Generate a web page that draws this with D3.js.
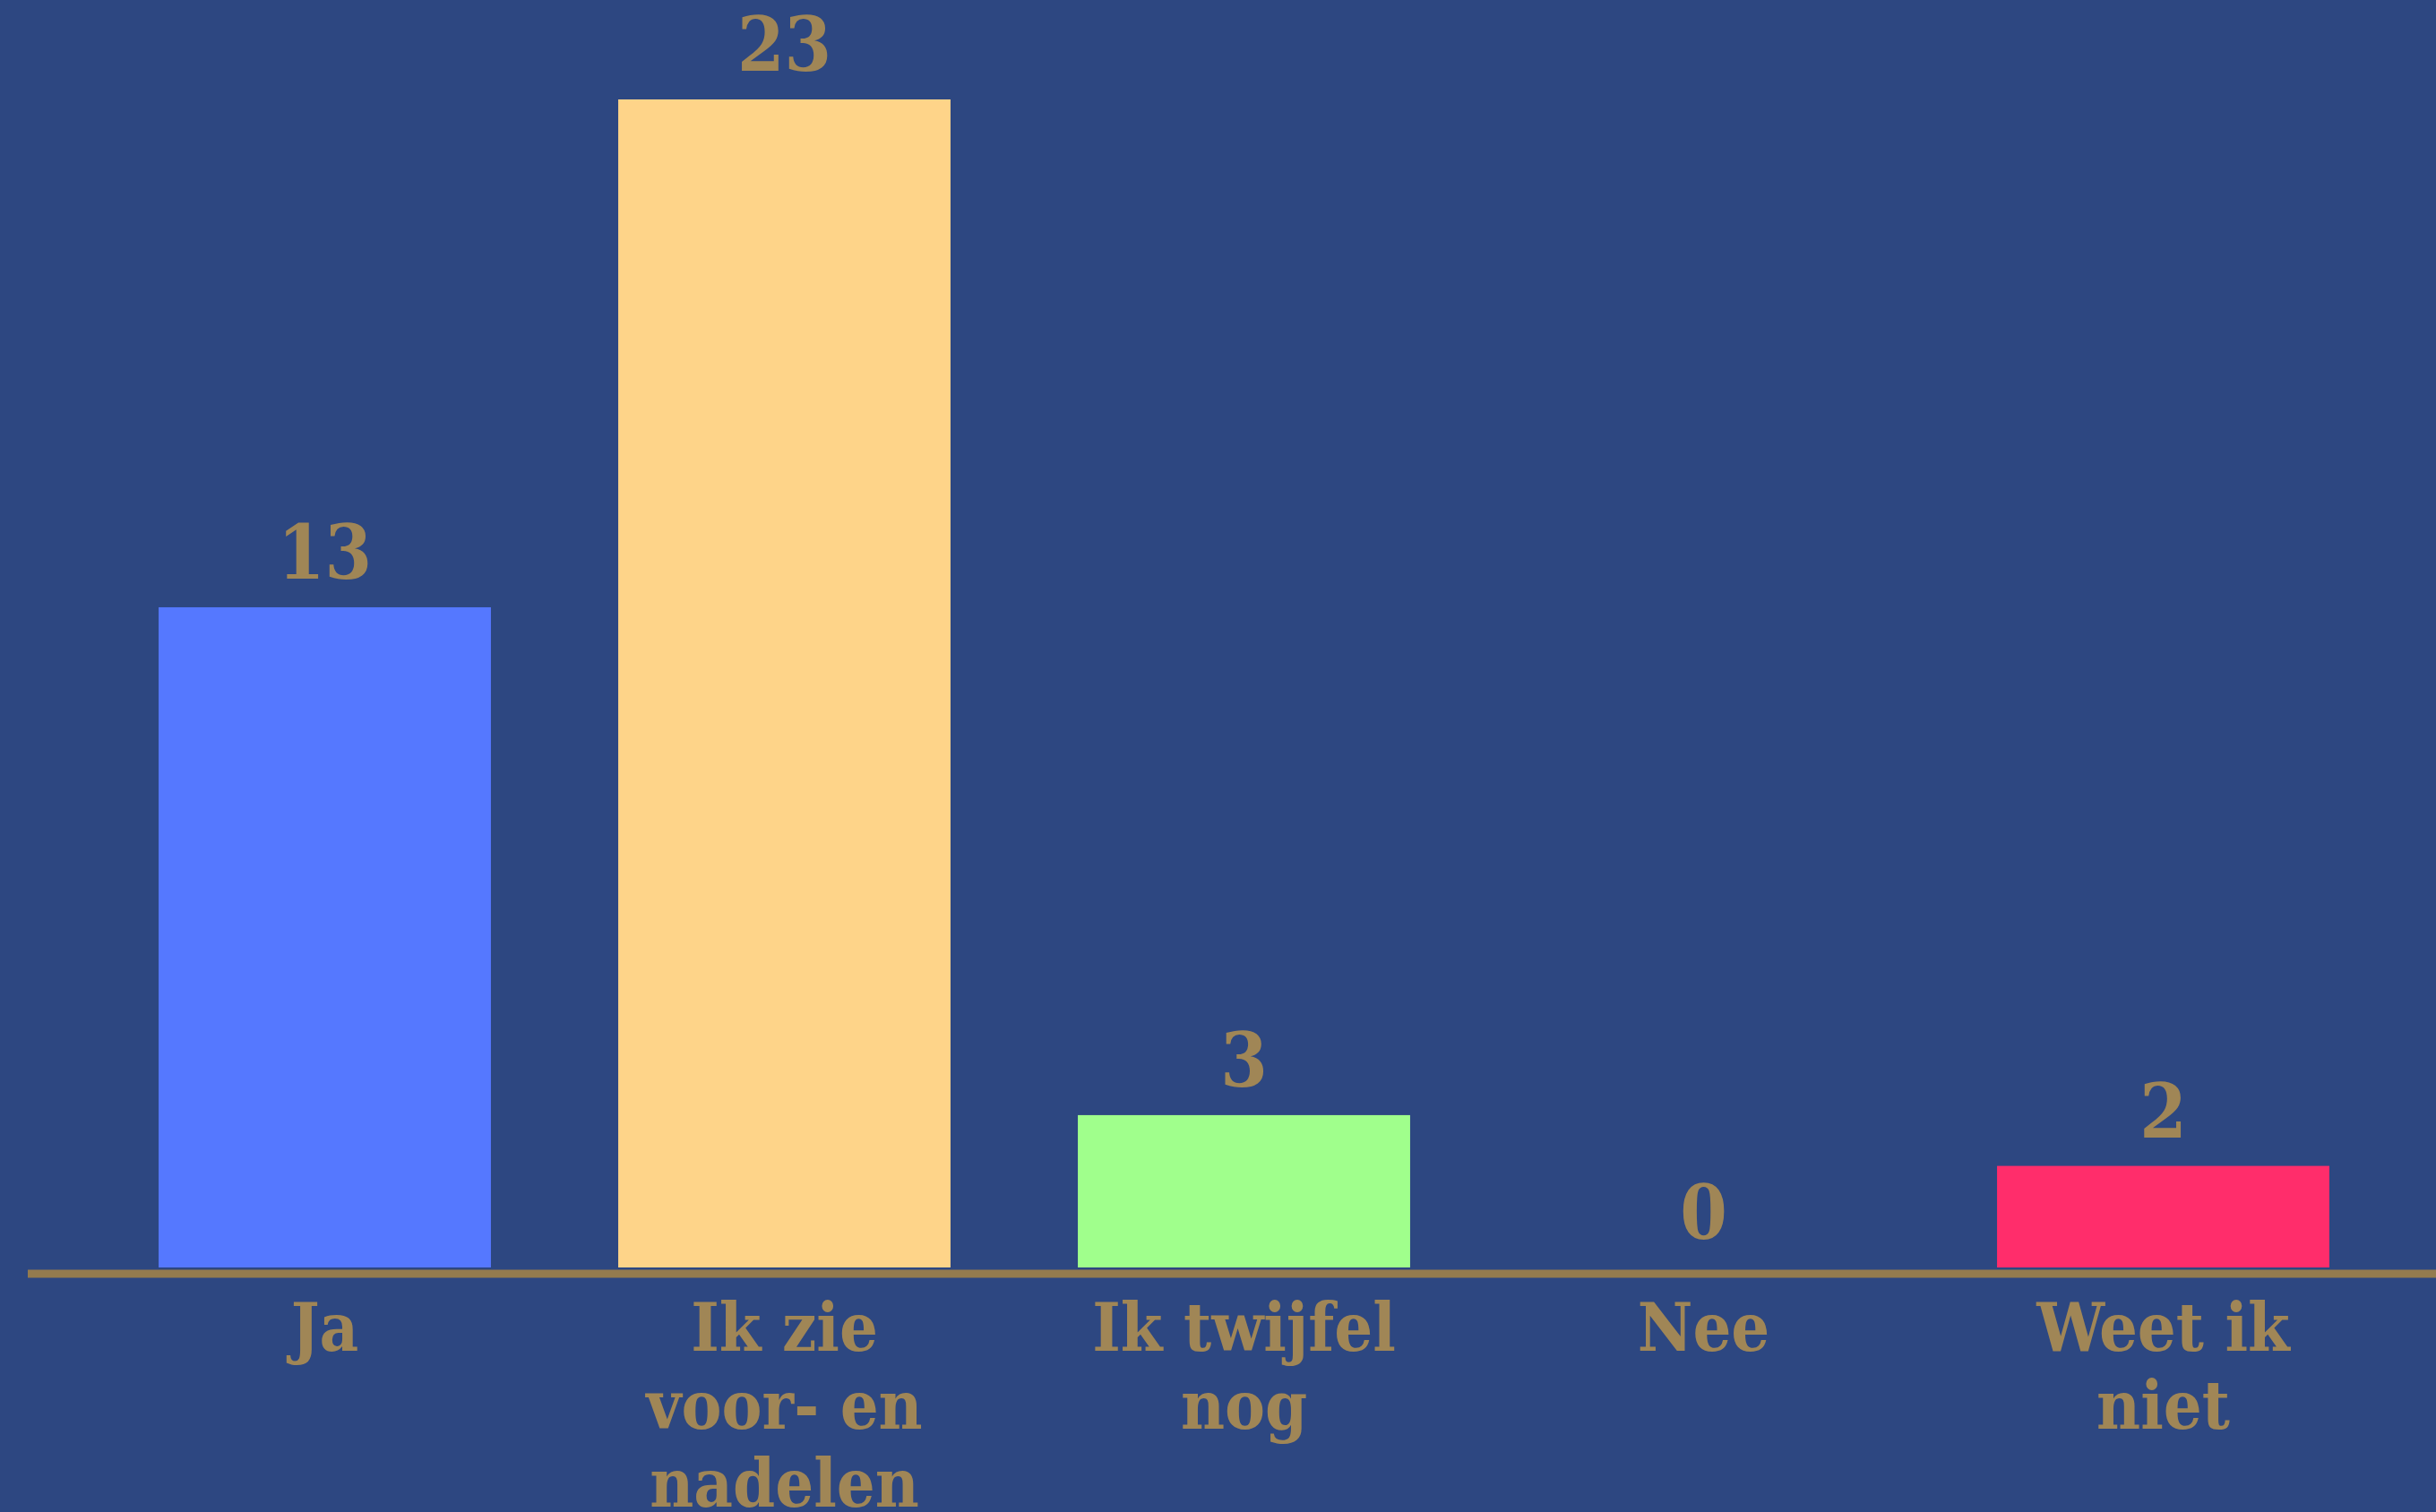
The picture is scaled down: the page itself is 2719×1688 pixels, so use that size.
<!DOCTYPE html>
<html>
<head>
<meta charset="utf-8">
<script src="https://cdn.jsdelivr.net/npm/d3@7"></script>
<style>
  html, body { margin: 0; padding: 0; background: #2D4781; }
  svg { display: block; }
  text { font-family: "DejaVu Serif Condensed", "DejaVu Serif", serif; font-stretch: condensed; font-weight: bold; }
</style>
</head>
<body>
<script>
const categories = ["Ja", "Ik zie voor- en nadelen", "Ik twijfel nog", "Nee", "Weet ik niet"];
const categoryLines = [["Ja"], ["Ik zie", "voor- en", "nadelen"], ["Ik twijfel", "nog"], ["Nee"], ["Weet ik", "niet"]];
const values = [13, 23, 3, 0, 2];
const barColors = ["#5578FF", "#FED489", "#A0FF8C", "#FF2D6B", "#FF2D6B"];

const W = 2719, H = 1688;
const bg = "#2D4781", gold = "#A08656";

const svg = d3.select("body").append("svg").attr("width", W).attr("height", H);
svg.append("rect").attr("width", W).attr("height", H).attr("fill", bg);

const x = d3.scaleBand().domain(categories).range([106, 2671]).paddingInner(0.277).paddingOuter(0.1385);
const y = d3.scaleLinear().domain([0, 23]).range([1415, 111]);

svg.selectAll("rect.bar").data(values).enter().append("rect")
  .attr("class", "bar")
  .attr("x", (d, i) => x(categories[i]))
  .attr("width", x.bandwidth())
  .attr("y", d => y(d))
  .attr("height", d => y(0) - y(d))
  .attr("fill", (d, i) => barColors[i]);

svg.selectAll("text.val").data(values).enter().append("text")
  .attr("class", "val")
  .attr("x", (d, i) => x(categories[i]) + x.bandwidth() / 2)
  .attr("y", d => y(d) - 32)
  .attr("text-anchor", "middle")
  .attr("font-size", 84)
  .attr("fill", gold)
  .text(d => d);

// baseline
svg.append("line")
  .attr("x1", 31).attr("x2", W)
  .attr("y1", 1422).attr("y2", 1422)
  .attr("stroke", "#947B4E").attr("stroke-width", 9);

// category axis
const axis = d3.axisBottom(x).tickSize(0).tickFormat("");
const ag = svg.append("g").attr("transform", "translate(0,1422)").call(axis);
ag.select(".domain").remove();
ag.selectAll(".tick").each(function(d, i) {
  const t = d3.select(this).append("text")
    .attr("text-anchor", "middle")
    .attr("font-size", 75)
    .attr("fill", gold);
  categoryLines[i].forEach((ln, j) => {
    t.append("tspan").attr("x", 0).attr("y", 86 + j * 87).text(ln);
  });
});
</script>
</body>
</html>
